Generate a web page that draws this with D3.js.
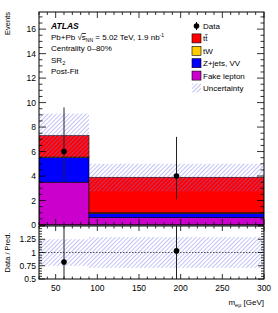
<!DOCTYPE html>
<html>
<head>
<meta charset="utf-8">
<script src="https://cdn.jsdelivr.net/npm/d3@7"></script>
<style>
  body { margin: 0; background: #fff; }
  text { font-family: "Liberation Sans", Arial, sans-serif; fill: #000; }
</style>
</head>
<body>
<svg id="chart" width="278" height="313"></svg>
<script>
// ---- data ----
const binEdges = [30, 90, 300];
const fakeLepton = [3.5, 0.6];
const zjetsVV = [2.0, 0.35];
const tW = [0.05, 0.05];
const ttbar = [1.75, 2.9];
const uncLow = [5.5, 2.75];
const uncHigh = [9.1, 5.0];

const dataX = [60, 195];
const dataY = [6, 4];
const dataErrLow = [3.6, 2.1];
const dataErrHigh = [9.6, 7.2];

const ratioY = [0.82, 1.03];
const ratioLow = [0.3, 0.3];
const ratioHigh = [1.7, 1.7];
const ratioBandLow = [0.75, 0.71];
const ratioBandHigh = [1.25, 1.29];

const legendItems = ["Data", "ttbar", "tW", "Z+jets, VV", "Fake lepton", "Uncertainty"];

// ---- layout ----
const left = 39, right = 264;
const mainTop = 12, mainBottom = 225;
const ratTop = 226, ratBottom = 279;

const svg = d3.select("#chart");

const x = d3.scaleLinear().domain([30, 300]).range([left, right]);
const y = d3.scaleLinear().domain([0, 17.4]).range([mainBottom, mainTop]);
const yr = d3.scaleLinear().domain([0.5, 1.5]).range([ratBottom, ratTop]);

// hatch pattern
const defs = svg.append("defs");
defs.append("pattern")
  .attr("id", "hatch")
  .attr("patternUnits", "userSpaceOnUse")
  .attr("width", 3).attr("height", 3)
  .attr("patternTransform", "rotate(45)")
  .append("line")
  .attr("x1", 0).attr("y1", 0).attr("x2", 0).attr("y2", 3)
  .attr("stroke", "#7878ee").attr("stroke-width", 0.9);

defs.append("clipPath").attr("id", "clipMain")
  .append("rect").attr("x", left).attr("y", mainTop).attr("width", right - left).attr("height", mainBottom - mainTop);
defs.append("clipPath").attr("id", "clipRat")
  .append("rect").attr("x", left).attr("y", ratTop).attr("width", right - left).attr("height", ratBottom - ratTop);

// ---- stacked histogram ----
const layers = [
  { vals: fakeLepton, color: "#cc00cc" },
  { vals: zjetsVV, color: "#0000ff" },
  { vals: tW, color: "#ffcc00" },
  { vals: ttbar, color: "#ff0000" }
];
const stacked = [];
const base = [0, 0];
layers.forEach(l => {
  l.vals.forEach((v, i) => {
    stacked.push({ i: i, y0: base[i], y1: base[i] + v, color: l.color });
    base[i] += v;
  });
});

const gMain = svg.append("g").attr("clip-path", "url(#clipMain)");
gMain.selectAll("rect.stack")
  .data(stacked)
  .join("rect")
  .attr("class", "stack")
  .attr("x", d => x(binEdges[d.i]))
  .attr("width", d => x(binEdges[d.i + 1]) - x(binEdges[d.i]))
  .attr("y", d => y(d.y1))
  .attr("height", d => y(d.y0) - y(d.y1))
  .attr("fill", d => d.color)
  .attr("stroke", "#000")
  .attr("stroke-width", 0.6);

// uncertainty band
gMain.selectAll("rect.unc")
  .data(uncLow.map((v, i) => ({ i: i, lo: v, hi: uncHigh[i] })))
  .join("rect")
  .attr("class", "unc")
  .attr("x", d => x(binEdges[d.i]))
  .attr("width", d => x(binEdges[d.i + 1]) - x(binEdges[d.i]))
  .attr("y", d => y(d.hi))
  .attr("height", d => y(d.lo) - y(d.hi))
  .attr("fill", "url(#hatch)");

// data points
const pts = dataX.map((v, i) => ({ x: v, y: dataY[i], lo: dataErrLow[i], hi: dataErrHigh[i] }));
gMain.selectAll("line.err")
  .data(pts)
  .join("line")
  .attr("class", "err")
  .attr("x1", d => x(d.x)).attr("x2", d => x(d.x))
  .attr("y1", d => y(d.lo)).attr("y2", d => y(d.hi))
  .attr("stroke", "#222").attr("stroke-width", 1);
gMain.selectAll("circle")
  .data(pts)
  .join("circle")
  .attr("cx", d => x(d.x)).attr("cy", d => y(d.y))
  .attr("r", 2.8).attr("fill", "#000");

// ---- ratio panel ----
const gRat = svg.append("g").attr("clip-path", "url(#clipRat)");
gRat.selectAll("rect.unc")
  .data(ratioBandLow.map((v, i) => ({ i: i, lo: v, hi: ratioBandHigh[i] })))
  .join("rect")
  .attr("x", d => x(binEdges[d.i]))
  .attr("width", d => x(binEdges[d.i + 1]) - x(binEdges[d.i]))
  .attr("y", d => yr(d.hi))
  .attr("height", d => yr(d.lo) - yr(d.hi))
  .attr("fill", "url(#hatch)");

gRat.append("line")
  .attr("x1", left).attr("x2", right)
  .attr("y1", yr(1)).attr("y2", yr(1))
  .attr("stroke", "#555").attr("stroke-width", 1)
  .attr("stroke-dasharray", "1.5,1.5");

const rpts = dataX.map((v, i) => ({ x: v, y: ratioY[i], lo: ratioLow[i], hi: ratioHigh[i] }));
gRat.selectAll("line.err")
  .data(rpts)
  .join("line")
  .attr("class", "err")
  .attr("x1", d => x(d.x)).attr("x2", d => x(d.x))
  .attr("y1", d => yr(d.lo)).attr("y2", d => yr(d.hi))
  .attr("stroke", "#222").attr("stroke-width", 1);
gRat.selectAll("circle")
  .data(rpts)
  .join("circle")
  .attr("cx", d => x(d.x)).attr("cy", d => yr(d.y))
  .attr("r", 2.8).attr("fill", "#000");

// ---- axes ----
function frame(top, bottom) {
  svg.append("rect")
    .attr("x", left).attr("y", top)
    .attr("width", right - left).attr("height", bottom - top)
    .attr("fill", "none").attr("stroke", "#000").attr("stroke-width", 1);
}
frame(mainTop, mainBottom);
frame(ratTop, ratBottom);

function ticksX(top, bottom, majLen, minLen) {
  const minor = d3.range(30, 301, 10);
  minor.forEach(v => {
    const len = v % 50 === 0 ? majLen : minLen;
    svg.append("line").attr("x1", x(v)).attr("x2", x(v)).attr("y1", bottom).attr("y2", bottom - len).attr("stroke", "#000").attr("stroke-width", 0.8);
    svg.append("line").attr("x1", x(v)).attr("x2", x(v)).attr("y1", top).attr("y2", top + len).attr("stroke", "#000").attr("stroke-width", 0.8);
  });
}
function ticksY(scale, minorVals, isMajor, majLen, minLen) {
  minorVals.forEach(v => {
    const len = isMajor(v) ? majLen : minLen;
    svg.append("line").attr("x1", left).attr("x2", left + len).attr("y1", scale(v)).attr("y2", scale(v)).attr("stroke", "#000").attr("stroke-width", 0.8);
    svg.append("line").attr("x1", right).attr("x2", right - len).attr("y1", scale(v)).attr("y2", scale(v)).attr("stroke", "#000").attr("stroke-width", 0.8);
  });
}
ticksX(mainTop, mainBottom, 6, 3);
ticksX(ratTop, ratBottom, 5, 2.5);
ticksY(y, d3.range(0, 17.01, 0.5), v => Math.abs(v % 2) < 1e-6, 7, 3.5);
ticksY(yr, d3.range(0.5, 1.501, 0.05).map(v => +v.toFixed(2)), v => Math.abs((v * 4) - Math.round(v * 4)) < 1e-6, 6, 3);

// tick labels
const fs = 8.5;
svg.selectAll("text.ylab")
  .data(d3.range(0, 17, 2))
  .join("text")
  .attr("x", left - 3).attr("y", d => y(d) + 3)
  .attr("text-anchor", "end").attr("font-size", fs)
  .text(d => d);
svg.selectAll("text.rlab")
  .data([0.5, 0.75, 1, 1.25])
  .join("text")
  .attr("x", left - 3).attr("y", d => yr(d) + 3)
  .attr("text-anchor", "end").attr("font-size", fs)
  .text(d => d);
svg.selectAll("text.xlab")
  .data(d3.range(50, 301, 50))
  .join("text")
  .attr("x", d => x(d)).attr("y", ratBottom + 12)
  .attr("text-anchor", "middle").attr("font-size", fs)
  .text(d => d);

// axis titles
svg.append("text")
  .attr("transform", `translate(10,${mainTop}) rotate(-90)`)
  .attr("text-anchor", "end").attr("font-size", 7.5)
  .text("Events");
svg.append("text")
  .attr("transform", `translate(10,${(ratTop + ratBottom) / 2}) rotate(-90)`)
  .attr("text-anchor", "middle").attr("font-size", 7.5)
  .text("Data / Pred.");
const xt = svg.append("text")
  .attr("x", right).attr("y", ratBottom + 26)
  .attr("text-anchor", "end").attr("font-size", 8);
xt.append("tspan").text("m");
xt.append("tspan").attr("font-size", 5.5).attr("dy", 2).text("e\u03bc");
xt.append("tspan").attr("dy", -2).text(" [GeV]");

// ---- labels ----
const lx = 51;
svg.append("text").attr("x", lx).attr("y", 29).attr("font-size", 8.5)
  .attr("font-weight", "bold").attr("font-style", "italic").text("ATLAS");
const t2 = svg.append("text").attr("x", lx).attr("y", 40).attr("font-size", 8);
t2.append("tspan").text("Pb+Pb \u221A");
t2.append("tspan").attr("text-decoration", "overline").text("s");
t2.append("tspan").attr("font-size", 5).attr("dy", 2).text("NN");
t2.append("tspan").attr("dy", -2).text(" = 5.02 TeV, 1.9 nb");
t2.append("tspan").attr("font-size", 5).attr("dy", -3).text("-1");
svg.append("text").attr("x", lx).attr("y", 51).attr("font-size", 8).text("Centrality 0\u201380%");
const t4 = svg.append("text").attr("x", lx).attr("y", 63).attr("font-size", 8);
t4.append("tspan").text("SR");
t4.append("tspan").attr("font-size", 5.5).attr("dy", 2).text("2");
svg.append("text").attr("x", lx).attr("y", 74).attr("font-size", 8).text("Post-Fit");

// ---- legend ----
const legColors = [null, "#ff0000", "#ffcc00", "#0000ff", "#cc00cc", "hatch"];
const legY0 = 26, legStep = 12.4, boxX = 192, txtX = 203;
const leg = svg.append("g");
legendItems.forEach((name, i) => {
  const cy = legY0 + i * legStep;
  if (i === 0) {
    leg.append("circle").attr("cx", boxX + 4.5).attr("cy", cy).attr("r", 2.8).attr("fill", "#000");
    leg.append("line").attr("x1", boxX + 4.5).attr("x2", boxX + 4.5).attr("y1", cy - 4).attr("y2", cy + 4).attr("stroke", "#000");
  } else if (legColors[i] === "hatch") {
    leg.append("rect").attr("x", boxX).attr("y", cy - 4.5).attr("width", 9).attr("height", 9).attr("fill", "url(#hatch)");
  } else {
    leg.append("rect").attr("x", boxX).attr("y", cy - 4.5).attr("width", 9).attr("height", 9)
      .attr("fill", legColors[i]).attr("stroke", "#000").attr("stroke-width", 0.6);
  }
  const t = leg.append("text").attr("x", txtX).attr("y", cy + 3).attr("font-size", 8);
  if (name === "ttbar") {
    t.append("tspan").text("t");
    t.append("tspan").attr("text-decoration", "overline").text("t");
  } else {
    t.text(name);
  }
});
</script>
</body>
</html>
